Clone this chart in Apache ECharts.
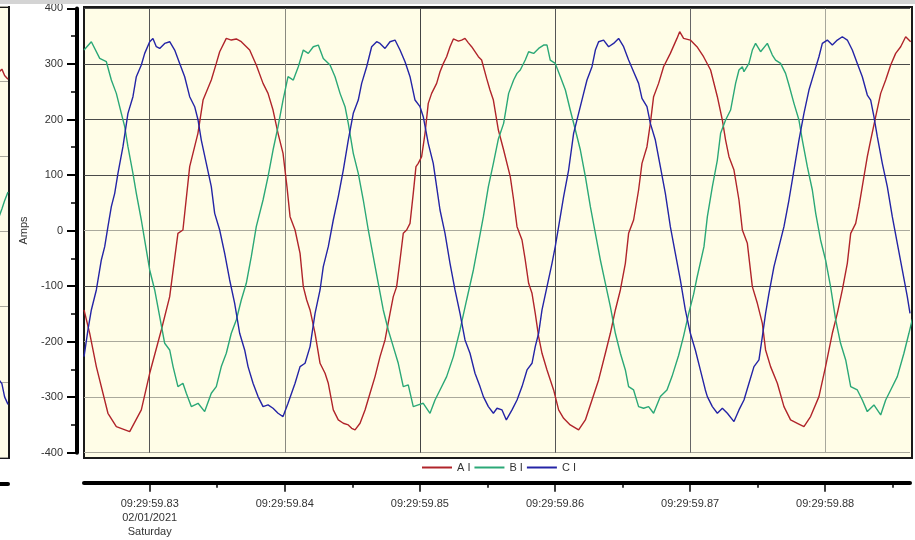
<!DOCTYPE html>
<html>
<head>
<meta charset="utf-8">
<script src="https://cdn.jsdelivr.net/npm/echarts@6/dist/echarts.min.js"></script>
<style>
html, body { margin: 0; padding: 0; background: #fff; }
#chart { width: 915px; height: 540px; }
</style>
</head>
<body>
<div id="chart"></div>
<script>
// time in ms after 09:29:59.800, current in amps
var aTime = [25.14,25.56,26.05,26.91,27.53,28.52,29.38,30.00,30.86,31.48,32.09,32.46,32.96,33.57,33.95,34.56,34.93,35.18,35.67,36.04,36.41,36.78,37.40,37.89,38.39,38.76,39.13,39.50,39.87,40.16,40.39,40.76,41.13,41.37,41.62,41.87,42.24,42.61,42.98,43.22,43.59,43.96,44.33,44.70,44.95,45.20,45.57,45.94,46.31,46.68,47.05,47.42,47.79,48.03,48.28,48.53,48.77,49.02,49.27,49.51,49.71,49.88,50.13,50.38,50.62,50.87,51.24,51.49,51.74,51.98,52.23,52.48,52.85,53.09,53.34,53.59,53.83,54.08,54.33,54.57,54.94,55.19,55.44,55.81,56.20,56.69,56.94,57.19,57.56,57.80,58.05,58.30,58.54,58.79,59.04,59.41,59.90,60.27,60.64,61.13,61.75,62.25,62.74,63.23,63.73,64.10,64.47,64.84,65.21,65.45,65.82,66.19,66.44,66.81,67.06,67.30,67.67,68.04,68.54,69.03,69.23,69.52,70.02,70.51,71.00,71.52,72.02,72.39,72.63,72.88,73.25,73.62,73.87,74.24,74.61,74.98,75.35,75.59,75.96,76.46,76.95,77.44,77.94,78.43,78.92,79.54,80.03,80.53,80.90,81.27,81.64,81.89,82.26,82.50,82.87,83.12,83.37,83.74,84.11,84.48,84.85,85.22,85.59,85.96,86.33];
var aAmps = [-143,-185,-245,-329,-353,-362,-323,-257,-179,-119,-5,1,115,175,235,271,301,322,346,343,345,340,325,298,265,247,217,175,139,79,25,1,-41,-101,-125,-143,-185,-239,-257,-275,-323,-341,-347,-350,-356,-359,-347,-323,-293,-263,-227,-197,-149,-119,-101,-53,-5,1,13,67,115,121,133,175,229,247,265,286,301,313,331,345,341,343,346,338,331,322,313,307,274,253,235,181,145,97,55,7,-17,-53,-95,-113,-149,-191,-221,-251,-287,-323,-338,-350,-359,-341,-305,-269,-221,-185,-143,-107,-59,-5,19,73,121,151,193,241,265,295,319,346,358,346,343,331,313,289,241,199,163,133,109,55,1,-23,-101,-131,-167,-215,-245,-275,-317,-341,-347,-353,-335,-299,-245,-185,-149,-107,-59,-5,13,43,97,133,163,205,247,271,298,319,331,349,340];

var bTime = [25.14,25.68,26.30,26.79,27.16,27.53,27.90,28.15,28.39,28.76,29.01,29.38,29.75,30.00,30.37,30.74,31.11,31.48,31.73,32.09,32.46,32.71,33.08,33.58,34.07,34.56,34.93,35.30,35.67,36.04,36.41,36.78,37.15,37.52,37.89,38.39,38.76,39.13,39.50,39.87,40.24,40.63,41.00,41.37,41.74,42.11,42.48,42.85,43.35,43.72,44.09,44.46,44.70,45.07,45.44,45.81,46.18,46.55,46.92,47.29,47.66,48.03,48.40,48.77,49.14,49.51,49.88,50.25,50.75,51.12,51.49,51.98,52.48,52.97,53.46,53.96,54.33,54.70,55.07,55.44,55.81,56.20,56.57,56.94,57.19,57.43,57.80,58.05,58.42,58.79,59.16,59.41,59.65,60.02,60.40,60.77,61.13,61.51,61.88,62.25,62.62,62.99,63.36,63.73,64.10,64.47,64.84,65.21,65.45,65.82,66.19,66.56,66.93,67.30,67.80,68.29,68.66,69.15,69.52,69.89,70.26,70.51,70.88,71.03,71.28,71.65,72.02,72.26,72.63,73.00,73.37,73.62,73.87,73.99,74.36,74.61,74.85,75.22,75.72,76.09,76.33,76.70,77.07,77.32,77.69,78.06,78.31,78.68,79.05,79.30,79.66,80.03,80.40,80.78,81.14,81.52,81.89,82.38,82.75,83.12,83.61,84.11,84.48,84.85,85.34,85.83,86.20,86.45];
var bAmps = [325,340,310,304,271,247,211,187,151,103,67,19,-35,-71,-107,-155,-203,-215,-245,-281,-275,-293,-317,-311,-326,-293,-281,-245,-221,-185,-161,-125,-95,-47,7,55,97,145,187,235,277,271,295,325,319,331,334,310,298,277,247,223,193,139,103,55,1,-47,-95,-143,-179,-209,-239,-281,-278,-317,-314,-311,-329,-305,-287,-263,-227,-179,-125,-71,-23,25,79,121,165,193,247,271,283,289,307,322,319,328,334,334,307,301,277,253,217,181,145,97,43,-5,-53,-95,-137,-185,-221,-251,-281,-287,-317,-320,-317,-329,-299,-287,-263,-225,-190,-150,-115,-85,-45,-29,25,79,127,175,199,217,265,289,295,286,301,325,337,322,337,316,307,301,283,262,229,199,163,115,73,31,-17,-53,-101,-161,-203,-233,-281,-287,-305,-326,-314,-332,-305,-287,-263,-221,-185,-160];

var cTime = [25.14,25.43,25.68,26.05,26.42,26.67,26.91,27.16,27.41,27.65,28.02,28.39,28.76,29.01,29.38,29.63,30.00,30.24,30.49,30.74,31.11,31.48,31.85,32.22,32.59,32.96,33.33,33.58,33.82,34.19,34.56,34.81,35.18,35.55,35.92,36.29,36.66,37.03,37.28,37.65,38.02,38.39,38.76,39.13,39.50,39.87,40.24,40.76,41.13,41.50,41.87,42.24,42.61,42.85,43.22,43.59,43.96,44.33,44.70,45.07,45.44,45.69,46.06,46.43,46.80,47.05,47.42,47.79,48.16,48.53,48.90,49.27,49.64,50.01,50.25,50.62,50.99,51.24,51.49,51.86,52.23,52.60,52.97,53.34,53.71,54.08,54.45,54.70,55.07,55.44,55.71,56.08,56.40,56.82,57.19,57.56,57.93,58.30,58.54,58.79,59.04,59.41,59.78,60.02,60.27,60.64,61.01,61.38,61.75,62.12,62.37,62.74,62.99,63.23,63.60,63.97,64.34,64.71,65.08,65.45,65.82,66.19,66.44,66.81,67.06,67.43,67.80,68.17,68.54,68.91,69.28,69.65,70.02,70.39,70.76,71.13,71.28,71.65,72.02,72.39,72.76,73.25,73.62,73.99,74.36,74.73,75.10,75.35,75.59,75.84,76.21,76.58,76.95,77.32,77.69,78.06,78.43,78.80,79.17,79.54,79.79,80.16,80.53,80.90,81.27,81.64,82.01,82.38,82.75,83.12,83.37,83.61,83.86,84.23,84.60,84.97,85.34,85.71,86.08,86.28];
var cAmps = [-227,-179,-143,-107,-53,-29,7,43,67,103,151,211,241,277,298,319,340,346,331,328,337,340,325,301,277,241,223,199,163,121,79,31,1,-41,-89,-131,-185,-215,-245,-275,-299,-317,-314,-320,-329,-335,-311,-275,-245,-239,-209,-149,-107,-65,-29,19,61,109,163,211,235,265,295,331,340,337,328,340,343,325,304,277,235,223,205,157,121,79,37,-5,-59,-107,-149,-197,-221,-257,-281,-299,-317,-329,-320,-323,-341,-323,-305,-281,-251,-239,-209,-185,-143,-101,-59,-29,7,61,109,175,211,247,271,295,325,340,343,331,337,346,331,307,286,265,238,223,193,163,115,67,7,-41,-89,-143,-185,-215,-251,-287,-299,-317,-329,-320,-329,-344,-323,-305,-275,-245,-233,-191,-149,-113,-65,-29,7,55,109,163,211,253,283,313,337,343,334,343,349,343,325,301,277,244,235,205,169,121,79,25,-23,-71,-119,-149];

// edge of the neighbouring panel on the far left
var edgeTime = [8.7, 9.1, 9.5, 10];
var edgeA = [425, 432, 415, 405];
var edgeB = [40, 60, 82, 105];
var edgeC = [-395, -405, -440, -460];

var seriesNames = ['A I', 'B I', 'C I'];
var seriesColors = ['#B0242A', '#2BA877', '#2424A6'];
var majorTicks = [30, 40, 50, 60, 70, 80];
var minorTicks = [35, 45, 55, 65, 75, 85];
var timePrefix = '09:29:59.';
var dateText = '02/01/2021';
var dayText = 'Saturday';

function pairs(t, v) {
  return t.map(function (x, i) { return [x, v[i]]; });
}

function timeLabel(v) {
  var s = timePrefix + Math.round((800 + v) / 10);
  if (Math.round(v) === 30) s += '\n' + dateText + '\n' + dayText;
  return s;
}

var xMin = 25.137, xMax = 86.28;
var light = '#aaa99c', dark = '#4a4a4a';

var chart = echarts.init(document.getElementById('chart'));

function lineSeries(name, t, v, color, xi, yi) {
  return {
    name: name,
    type: 'line',
    xAxisIndex: xi,
    yAxisIndex: yi,
    data: pairs(t, v),
    symbol: 'none',
    clip: true,
    lineStyle: { color: color, width: 1.4 },
    itemStyle: { color: color },
    animation: false
  };
}

var option = {
  animation: false,
  backgroundColor: '#ffffff',
  textStyle: { fontFamily: 'Liberation Sans, Arial, sans-serif' },
  graphic: [
    { type: 'rect', x: 0, y: 0, shape: { x: 0, y: 0, width: 915, height: 4 }, style: { fill: '#d4d4d4' }, z: 10 },
    { type: 'rect', left: 83, top: 6, shape: { x: 0, y: 0, width: 828, height: 451 },
      style: { fill: '#FFFDE7', stroke: '#1a1a1a', lineWidth: 2 }, z: -1 },
    { type: 'rect', left: -4, top: 6, shape: { x: 0, y: 0, width: 12, height: 451 },
      style: { fill: '#FFFDE7', stroke: '#1a1a1a', lineWidth: 2 }, z: -1 }
  ],
  legend: {
    data: seriesNames,
    left: 422,
    top: 462,
    padding: 0,
    icon: 'rect',
    itemWidth: 30,
    itemHeight: 2,
    itemGap: 4,
    textStyle: { color: '#333', fontSize: 11 }
  },
  grid: [
    { left: 84, right: 5, top: 8.4, bottom: 87.3, outerBoundsMode: 'none' },
    { left: -60, width: 68, top: 6, bottom: 83, outerBoundsMode: 'none' }
  ],
  xAxis: [
    {
      type: 'value', gridIndex: 0, min: xMin, max: xMax, position: 'bottom', offset: 30,
      axisLine: { show: true, onZero: false, lineStyle: { color: '#000', width: 4 } },
      axisTick: { show: true, customValues: majorTicks, length: 9, lineStyle: { color: '#000', width: 1.5 } },
      axisLabel: { customValues: majorTicks, formatter: timeLabel, color: '#333', fontSize: 11, lineHeight: 14, margin: 14 },
      splitLine: { show: true, lineStyle: { color: ['#555', '#8a8a80', '#444', '#555', '#666', '#a8a89c'], width: 1 } }
    },
    {
      type: 'value', gridIndex: 0, min: xMin, max: xMax, position: 'bottom', offset: 30,
      axisLine: { show: false, onZero: false },
      axisTick: { show: true, customValues: minorTicks, length: 5, lineStyle: { color: '#000', width: 1.5 } },
      axisLabel: { show: false },
      splitLine: { show: false }
    },
    {
      type: 'value', gridIndex: 1, min: 0, max: 10, position: 'bottom', offset: 27,
      axisLine: { show: true, onZero: false, lineStyle: { color: '#000', width: 4 } },
      axisTick: { show: false }, axisLabel: { show: false }, splitLine: { show: false }
    }
  ],
  yAxis: [
    {
      type: 'value', gridIndex: 0, min: -400, max: 400, interval: 100, position: 'left', offset: 7,
      name: 'Amps', nameLocation: 'middle', nameGap: 48,
      nameTextStyle: { color: '#333', fontSize: 11 },
      axisLine: { show: true, onZero: false, lineStyle: { color: '#000', width: 4 } },
      axisTick: { show: true, length: 10, lineStyle: { color: '#000', width: 2 } },
      minorTick: { show: true, splitNumber: 2, length: 6, lineStyle: { color: '#000', width: 1.5 } },
      axisLabel: { color: '#333', fontSize: 11, margin: 14 },
      splitLine: { show: true, lineStyle: { color: [light, light, light, dark, light, dark, dark, dark, dark], width: 1 } }
    },
    {
      type: 'value', gridIndex: 1, min: -600, max: 600, interval: 200,
      axisLine: { show: false, onZero: false }, axisTick: { show: false }, axisLabel: { show: false },
      splitLine: { show: true, lineStyle: { color: light, width: 1 } }
    }
  ],
  series: [
    lineSeries(seriesNames[0], aTime, aAmps, seriesColors[0], 0, 0),
    lineSeries(seriesNames[1], bTime, bAmps, seriesColors[1], 0, 0),
    lineSeries(seriesNames[2], cTime, cAmps, seriesColors[2], 0, 0),
    lineSeries('edgeA', edgeTime, edgeA, seriesColors[0], 2, 1),
    lineSeries('edgeB', edgeTime, edgeB, seriesColors[1], 2, 1),
    lineSeries('edgeC', edgeTime, edgeC, seriesColors[2], 2, 1)
  ]
};

chart.setOption(option);
</script>
</body>
</html>
